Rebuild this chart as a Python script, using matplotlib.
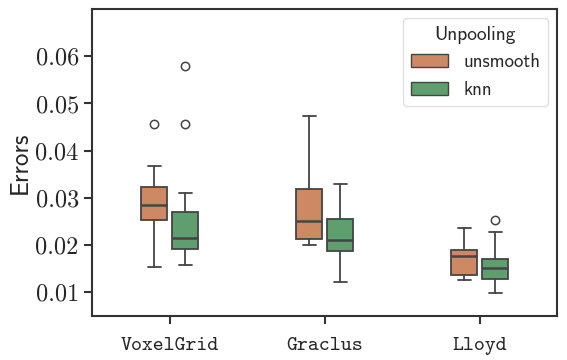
import matplotlib
matplotlib.use("Agg")
import matplotlib.pyplot as plt
import seaborn as sns

# box statistics
methods = ["VoxelGrid", "Graclus", "Lloyd"]
unpooling = ["unsmooth", "knn"]

med = {"unsmooth": [0.0284, 0.0251, 0.0177], "knn": [0.0215, 0.0211, 0.0152]}
q1 = {"unsmooth": [0.0253, 0.0214, 0.0137], "knn": [0.0191, 0.0187, 0.0129]}
q3 = {"unsmooth": [0.0323, 0.0318, 0.0189], "knn": [0.0270, 0.0255, 0.0170]}
whislo = {"unsmooth": [0.0153, 0.0201, 0.0126], "knn": [0.0157, 0.0121, 0.0099]}
whishi = {"unsmooth": [0.0368, 0.0474, 0.0236], "knn": [0.0310, 0.0329, 0.0227]}
fliers = {"unsmooth": [[0.0457], [], []], "knn": [[0.0457, 0.0580], [], [0.0253]]}

yticks = [0.01, 0.02, 0.03, 0.04, 0.05, 0.06]
ytick_labels = ["0.01", "0.02", "0.03", "0.04", "0.05", "0.06"]

sns.set_style("ticks")
plt.rcParams["axes.edgecolor"] = "#333333"
plt.rcParams["axes.linewidth"] = 1.5

colors = {"unsmooth": sns.desaturate("#dd8452", 0.75),
          "knn": sns.desaturate("#55a868", 0.75)}
line_c = "#444444"

fig = plt.figure(figsize=(5.67, 3.6), dpi=100)
ax = fig.add_axes([0.1623, 0.1222, 0.8201, 0.8528])

offsets = {"unsmooth": -0.1, "knn": 0.1}
for h in unpooling:
    stats = []
    for i in range(len(methods)):
        stats.append(dict(med=med[h][i], q1=q1[h][i], q3=q3[h][i],
                          whislo=whislo[h][i], whishi=whishi[h][i],
                          fliers=fliers[h][i]))
    pos = [i + offsets[h] for i in range(len(methods))]
    ax.bxp(stats, positions=pos, widths=0.168, patch_artist=True,
           manage_ticks=False,
           boxprops=dict(facecolor=colors[h], edgecolor=line_c, linewidth=1.3),
           medianprops=dict(color=line_c, linewidth=1.8),
           whiskerprops=dict(color=line_c, linewidth=1.3),
           capprops=dict(color=line_c, linewidth=1.3),
           flierprops=dict(marker="o", markersize=6, markerfacecolor="none",
                           markeredgecolor=line_c, markeredgewidth=1.1))

ax.set_xlim(-0.5, 2.5)
ax.set_ylim(0.005, 0.07)
ax.set_xticks(range(len(methods)))
ax.set_xticklabels(methods, family="cmtt10", fontsize=15)
ax.set_yticks(yticks)
ax.set_yticklabels(ytick_labels, family="cmr10", fontsize=17.5)
ax.tick_params(axis="both", length=6, width=1.5, color="#333333")
ax.tick_params(axis="x", pad=9)
ax.set_ylabel("Errors", family="cmss10", fontsize=18, labelpad=3)

handles = [plt.Rectangle((0, 0), 1, 1, facecolor=colors[h], edgecolor=line_c,
                         linewidth=1.0) for h in unpooling]
leg = ax.legend(handles, unpooling, title="Unpooling", loc="upper right",
                prop={"family": "cmss10", "size": 13.5},
                title_fontproperties={"family": "cmss10", "size": 14})
leg.get_frame().set_edgecolor("0.85")

fig.savefig("out.png", dpi=100)
